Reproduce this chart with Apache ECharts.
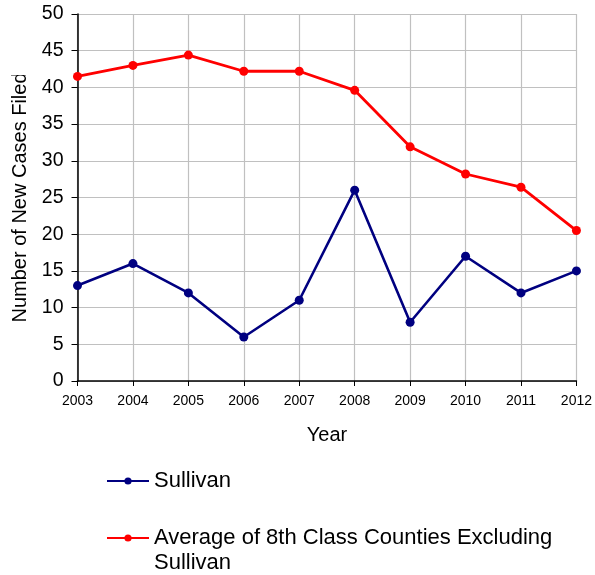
<!DOCTYPE html>
<html><head><meta charset="utf-8">
<script src="https://cdn.jsdelivr.net/npm/echarts@6/dist/echarts.min.js"></script>
<style>html,body{margin:0;padding:0;background:#fff}#c{width:595px;height:575px}</style>
</head><body><div id="c"></div>
<script>
const years = ['2003','2004','2005','2006','2007','2008','2009','2010','2011','2012'];
const sullivan = [13, 16, 12, 6, 11, 26, 8, 17, 12, 15];
const average8th = [41.5, 43, 44.4, 42.2, 42.2, 39.6, 31.9, 28.2, 26.4, 20.5];
const yTicks = { min: 0, max: 50, interval: 5 };
const seriesNames = ['Sullivan', 'Average of 8th Class Counties Excluding Sullivan'];

const font = 'Liberation Sans, Arial, sans-serif';
const chart = echarts.init(document.getElementById('c'), null, {renderer: 'canvas'});
chart.setOption({
  animation: false,
  textStyle: { fontFamily: font },
  grid: { left: 77.5, right: 15, top: 14, bottom: 194, containLabel: false },
  xAxis: {
    type: 'category', data: years, boundaryGap: false,
    name: 'Year', nameLocation: 'middle', nameGap: 44,
    nameTextStyle: { fontSize: 20, color: '#000', fontFamily: font },
    axisLine: { lineStyle: { color: '#000', width: 1.5 } },
    axisTick: { show: true, length: 5, alignWithLabel: true, lineStyle: { color: '#000' } },
    axisLabel: { fontSize: 14, color: '#000', margin: 13, fontFamily: font, interval: 0 },
    splitLine: { show: true, lineStyle: { color: '#c0c0c0', width: 1.2 } }
  },
  yAxis: {
    type: 'value', min: yTicks.min, max: yTicks.max, interval: yTicks.interval,
    name: 'Number of New Cases Filed', nameLocation: 'middle', nameGap: 46,
    nameTextStyle: { fontSize: 20, color: '#000', fontFamily: font },
    axisLine: { show: true, lineStyle: { color: '#000', width: 1.5 } },
    axisTick: { show: true, length: 6, lineStyle: { color: '#000' } },
    axisLabel: { fontSize: 19.5, color: '#000', margin: 14, fontFamily: font },
    splitLine: { show: true, lineStyle: { color: '#c0c0c0', width: 1.2 } }
  },
  legend: {
    orient: 'vertical', left: 106, top: 468.5, height: 200, padding: 0,
    itemWidth: 42, itemHeight: 9, itemGap: 7,
    textStyle: { fontSize: 22, color: '#000', fontFamily: font, lineHeight: 25 },
    data: [ { name: seriesNames[0] }, { name: seriesNames[1] } ],
    formatter: function (n) {
      return n.indexOf(' Excluding ') >= 0 ? '\n' + n.replace(' Excluding ', ' Excluding\n') : n;
    }
  },
  series: [
    { name: seriesNames[0], type: 'line', data: sullivan, symbol: 'circle', symbolSize: 9,
      itemStyle: { color: '#000080' }, lineStyle: { color: '#000080', width: 2.6 } },
    { name: seriesNames[1], type: 'line', data: average8th, symbol: 'circle', symbolSize: 9,
      itemStyle: { color: '#ff0000' }, lineStyle: { color: '#ff0000', width: 2.8 } }
  ],
  graphic: [
    { type: 'rect', z: 100, shape: { x: 0, y: 0, width: 34, height: 75 }, style: { fill: '#fff' } }
  ]
});
</script></body></html>
